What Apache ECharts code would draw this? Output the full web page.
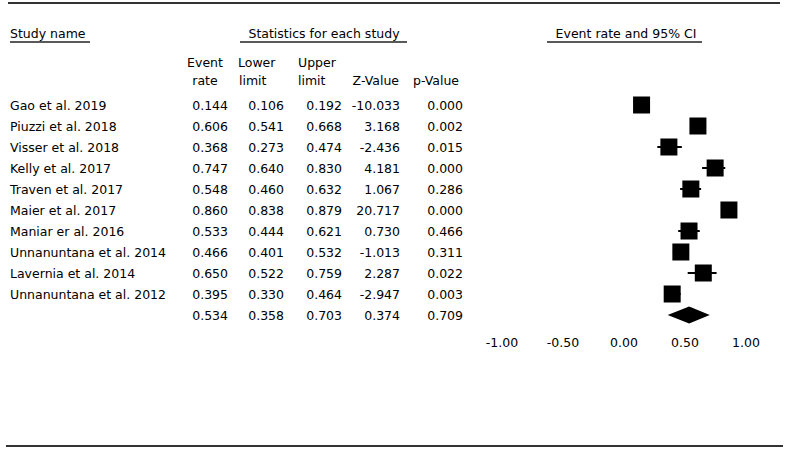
<!DOCTYPE html>
<html>
<head>
<meta charset="utf-8">
<script src="https://cdn.jsdelivr.net/npm/echarts@6/dist/echarts.min.js"></script>
<style>
  html, body { margin: 0; padding: 0; background: #fff; }
  #chart { width: 790px; height: 451px; }
</style>
</head>
<body>
<div id="chart"></div>
<script>
// rows of the table, last row is the pooled summary (no name)
const studies = [
  "Gao et al. 2019",
  "Piuzzi et al. 2018",
  "Visser et al. 2018",
  "Kelly et al. 2017",
  "Traven et al. 2017",
  "Maier et al. 2017",
  "Maniar er al. 2016",
  "Unnanuntana et al. 2014",
  "Lavernia et al. 2014",
  "Unnanuntana et al. 2012",
  ""
];
const eventRate = [0.144, 0.606, 0.368, 0.747, 0.548, 0.860, 0.533, 0.466, 0.650, 0.395, 0.534];
const lowerLimit = [0.106, 0.541, 0.273, 0.640, 0.460, 0.838, 0.444, 0.401, 0.522, 0.330, 0.358];
const upperLimit = [0.192, 0.668, 0.474, 0.830, 0.632, 0.879, 0.621, 0.532, 0.759, 0.464, 0.703];
const zValue = [-10.033, 3.168, -2.436, 4.181, 1.067, 20.717, 0.730, -1.013, 2.287, -2.947, 0.374];
const pValue = [0.000, 0.002, 0.015, 0.000, 0.286, 0.000, 0.466, 0.311, 0.022, 0.003, 0.709];
const xTicks = [-1, -0.5, 0, 0.5, 1];

const FONT = '"DejaVu Sans", sans-serif';
const FS = 12.5;
const summaryIdx = studies.length - 1;
const GRID_LEFT = 502;

const chart = echarts.init(document.getElementById("chart"), null, { renderer: "svg" });

// one hidden y axis per table column, labels placed with offset
function columnAxis(offset, align, fmt) {
  return {
    type: "category",
    data: studies,
    inverse: true,
    position: "left",
    offset: offset,
    axisLine: { show: false },
    axisTick: { show: false },
    splitLine: { show: false },
    axisLabel: {
      margin: 0,
      align: align,
      color: "#000",
      fontFamily: FONT,
      fontSize: FS,
      formatter: fmt
    }
  };
}

const headerText = (text, x, y, align) => ({
  type: "text", x: x, y: y,
  style: { text: text, font: FS + "px " + FONT, fill: "#000", textAlign: align, textVerticalAlign: "middle" }
});
const rule = (x1, x2, y, w, c) => ({
  type: "line", shape: { x1: x1, y1: y, x2: x2, y2: y },
  style: { stroke: c, lineWidth: w }
});

const ciData = studies.slice(0, summaryIdx).map((s, i) => [lowerLimit[i], upperLimit[i], i]);
const pointData = studies.slice(0, summaryIdx).map((s, i) => [eventRate[i], i]);
const summaryData = [[lowerLimit[summaryIdx], eventRate[summaryIdx], upperLimit[summaryIdx], summaryIdx]];

chart.setOption({
  animation: false,
  textStyle: { fontFamily: FONT },
  grid: { left: GRID_LEFT, width: 244, top: 94.5, height: 231 },
  xAxis: {
    type: "value",
    min: xTicks[0],
    max: xTicks[xTicks.length - 1],
    interval: 0.5,
    axisLine: { show: false },
    axisTick: { show: false },
    splitLine: { show: false },
    axisLabel: {
      margin: 10,
      color: "#000",
      fontSize: FS,
      fontFamily: FONT,
      formatter: (v) => v.toFixed(2)
    }
  },
  yAxis: [
    columnAxis(0, "right", () => ""),
    columnAxis(GRID_LEFT - 10, "left", (v, i) => studies[i]),
    columnAxis(GRID_LEFT - 228, "right", (v, i) => eventRate[i].toFixed(3)),
    columnAxis(GRID_LEFT - 284, "right", (v, i) => lowerLimit[i].toFixed(3)),
    columnAxis(GRID_LEFT - 342, "right", (v, i) => upperLimit[i].toFixed(3)),
    columnAxis(GRID_LEFT - 400, "right", (v, i) => zValue[i].toFixed(3)),
    columnAxis(GRID_LEFT - 463, "right", (v, i) => pValue[i].toFixed(3))
  ],
  series: [
    {
      type: "custom",
      yAxisIndex: 0,
      data: ciData,
      encode: { x: [0, 1], y: 2 },
      renderItem: (params, api) => {
        const a = api.coord([api.value(0), api.value(2)]);
        const b = api.coord([api.value(1), api.value(2)]);
        return {
          type: "line",
          shape: { x1: a[0], y1: a[1], x2: b[0], y2: b[1] },
          style: { stroke: "#000", lineWidth: 2 }
        };
      }
    },
    {
      type: "scatter",
      yAxisIndex: 0,
      symbol: "rect",
      symbolSize: 17,
      itemStyle: { color: "#000", opacity: 1 },
      data: pointData
    },
    {
      type: "custom",
      yAxisIndex: 0,
      data: summaryData,
      encode: { x: [0, 1, 2], y: 3 },
      renderItem: (params, api) => {
        const l = api.coord([api.value(0), api.value(3)]);
        const m = api.coord([api.value(1), api.value(3)]);
        const r = api.coord([api.value(2), api.value(3)]);
        const h = 8.5;
        return {
          type: "polygon",
          shape: { points: [[l[0], l[1]], [m[0], m[1] - h], [r[0], r[1]], [m[0], m[1] + h]] },
          style: { fill: "#000" }
        };
      }
    }
  ],
  graphic: [
    rule(8, 780, 3, 2, "#333"),
    rule(6, 783, 446, 2, "#333"),
    headerText("Study name", 10, 33, "left"),
    rule(10, 90, 42, 1.5, "#222"),
    headerText("Statistics for each study", 324, 33, "center"),
    rule(240, 407, 42, 1.5, "#222"),
    headerText("Event rate and 95% CI", 626, 33, "center"),
    rule(547, 702, 42, 1.5, "#222"),
    headerText("Event", 205, 62, "center"),
    headerText("rate", 205, 80, "center"),
    headerText("Lower", 238, 62, "left"),
    headerText("limit", 239, 80, "left"),
    headerText("Upper", 298, 62, "left"),
    headerText("limit", 298, 80, "left"),
    headerText("Z-Value", 399, 80, "right"),
    headerText("p-Value", 459, 80, "right")
  ]
});
</script>
</body>
</html>
